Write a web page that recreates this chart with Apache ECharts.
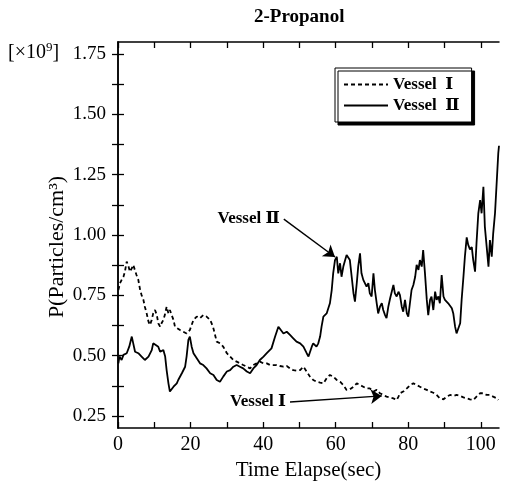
<!DOCTYPE html>
<html><head><meta charset="utf-8">
<script src="https://cdn.jsdelivr.net/npm/echarts@6/dist/echarts.min.js"></script>
<style>html,body{margin:0;padding:0;background:#fff}#c{width:505px;height:494px}</style>
</head><body><div id="c"></div>
<script>
// ---- data (time in sec, P in 10^9 particles/cm^3) ----
const timeVesselI = [0.1,0.55,1.0,1.5,1.9,2.4,2.9,3.3,3.8,4.2,4.7,5.1,5.6,6.1,6.5,7.0,7.4,7.9,8.4,8.8,9.3,9.7,10.2,10.7,11.1,11.6,12.0,12.5,12.9,13.4,13.9,14.3,14.8,15.3,15.7,16.2,17.1,18.0,18.9,19.8,20.3,20.8,21.2,21.7,22.6,23.5,24.4,25.4,25.8,26.3,27.2,28.1,29.0,30.0,30.9,31.8,32.7,33.6,34.5,35.5,36.4,37.3,38.2,39.1,40.1,41.0,41.9,42.8,43.7,44.6,45.6,46.5,47.4,48.3,49.2,50.2,
51.1,52.0,52.9,53.8,54.7,55.7,56.6,57.5,58.4,59.3,60.3,61.2,62.1,63.0,63.9,64.9,65.8,66.7,67.6,68.5,69.4,70.4,71.3,72.2,73.1,74.0,75.0,75.9,76.8,77.3,77.7,78.6,79.6,80.5,81.4,82.3,83.2,84.1,85.1,86.0,86.9,87.8,88.7,89.7,90.6,91.5,92.4,93.3,94.3,95.2,96.1,97.0,97.9,98.8,99.8,100.7,101.6,102.5,103.4,104.4,104.8];
const valueVesselI = [0.772,0.800,0.814,0.827,0.848,0.890,0.869,0.848,0.862,0.876,0.869,0.834,0.814,0.772,0.751,0.731,0.703,0.675,0.641,0.627,0.648,0.675,0.689,0.668,0.634,0.620,0.634,0.648,0.668,0.703,0.675,0.689,0.668,0.648,0.620,0.613,0.606,0.599,0.592,0.606,0.627,0.648,0.655,0.662,0.655,0.668,0.662,0.648,0.634,0.613,0.558,0.551,0.537,0.510,0.496,0.482,0.475,0.468,0.461,0.454,0.447,0.461,0.468,0.475,0.468,0.468,0.461,0.461,0.461,0.457,0.454,0.457,0.447,0.440,0.438,0.440,
0.454,0.434,0.413,0.399,0.392,0.388,0.385,0.406,0.420,0.413,0.399,0.392,0.378,0.358,0.360,0.371,0.385,0.378,0.371,0.364,0.364,0.351,0.358,0.344,0.337,0.330,0.327,0.323,0.316,0.330,0.344,0.351,0.364,0.378,0.385,0.378,0.371,0.364,0.358,0.351,0.346,0.337,0.323,0.319,0.330,0.337,0.333,0.337,0.333,0.327,0.323,0.319,0.316,0.330,0.344,0.344,0.337,0.337,0.330,0.323,0.316];

const timeVesselII = [0.1,0.4,1.0,1.5,2.4,3.1,3.8,4.2,4.7,5.6,6.5,7.4,8.4,9.3,9.7,10.2,11.1,11.6,12.5,13.0,13.4,13.9,14.3,15.3,16.2,16.6,17.6,18.5,18.9,19.4,19.8,20.3,20.8,21.7,22.6,23.5,24.4,25.4,26.3,27.2,28.1,29.0,30.0,30.9,31.8,32.7,33.6,34.5,35.5,36.4,37.3,38.2,39.1,40.1,41.0,42.3,43.3,44.2,
45.6,46.5,47.4,48.3,49.2,50.2,51.1,52.0,52.5,53.4,53.8,54.7,55.2,55.7,56.1,56.6,57.5,58.4,58.9,59.3,59.8,60.3,60.7,61.2,61.6,62.1,62.6,63.0,63.5,63.9,64.4,64.9,65.3,65.8,66.2,66.7,67.1,67.6,68.1,68.5,69.0,69.4,69.9,70.4,70.8,71.3,71.7,72.2,72.7,73.1,73.6,74.0,74.5,75.0,75.9,76.3,76.8,77.3,77.7,78.2,78.6,79.1,79.6,80.0,80.5,80.9,81.4,81.9,82.3,82.8,83.2,83.7,84.1,84.6,85.1,85.5,86.0,86.4,86.9,87.4,87.8,88.3,88.7,89.2,89.7,90.1,91.0,92.0,92.4,92.9,93.3,93.8,94.3,94.7,95.2,95.6,96.1,96.5,97.0,97.5,97.9,98.4,98.8,99.3,99.8,
100.2,100.7,101.1,101.6,102.1,102.5,103.0,103.4,103.9,104.4,104.8,105.0];
const valueVesselII = [0.468,0.496,0.482,0.503,0.510,0.537,0.579,0.551,0.516,0.510,0.496,0.482,0.496,0.523,0.551,0.558,0.537,0.516,0.523,0.496,0.440,0.385,0.351,0.371,0.385,0.399,0.427,0.454,0.496,0.565,0.579,0.537,0.510,0.489,0.468,0.461,0.447,0.427,0.420,0.399,0.392,0.413,0.434,0.440,0.454,0.461,0.454,0.447,0.434,0.427,0.447,0.461,0.482,0.496,0.510,0.530,0.579,0.620,
0.592,0.599,0.586,0.572,0.558,0.551,0.537,0.510,0.496,0.537,0.551,0.537,0.551,0.579,0.620,0.662,0.675,0.717,0.772,0.841,0.896,0.910,0.841,0.883,0.827,0.869,0.896,0.917,0.924,0.896,0.827,0.758,0.724,0.800,0.869,0.924,0.841,0.814,0.820,0.786,0.800,0.758,0.745,0.841,0.772,0.717,0.675,0.703,0.717,0.689,0.668,0.655,0.703,0.738,0.793,0.758,0.745,0.765,0.751,0.703,0.682,0.731,0.675,0.662,0.668,0.772,0.793,0.827,0.876,0.855,0.896,0.869,0.938,0.841,0.731,0.668,0.731,0.745,0.689,0.765,0.731,0.745,0.717,0.834,0.745,0.731,0.717,0.696,0.675,0.620,0.592,0.592,0.634,0.731,0.827,0.910,0.990,0.960,0.940,0.950,0.896,0.848,0.966,1.090,1.145,
1.090,1.200,1.035,0.952,0.869,0.979,0.910,1.007,1.090,1.228,1.339,1.370];

const seriesNames = ['Vessel Ⅰ', 'Vessel Ⅱ'];
const xTickLabels = [0, 20, 40, 60, 80, 100];
const xTicks = [0, 10, 20, 30, 40, 50, 60, 70, 80, 90, 100];
const yTickLabels = [0.25, 0.50, 0.75, 1.00, 1.25, 1.50, 1.75];
const yTicks = [0.25, 0.375, 0.5, 0.625, 0.75, 0.875, 1.0, 1.125, 1.25, 1.375, 1.5, 1.625, 1.75];
// annotation arrows: [start, tip] in data coordinates
const arrowVesselII = [[45.7, 1.066], [59.8, 0.909]];
const arrowVesselI = [[47.4, 0.308], [72.7, 0.333]];

const zip = (a, b) => a.map((t, i) => [t, b[i]]);
const FONT = '"Liberation Serif","DejaVu Serif","Times New Roman",serif';
const black = '#000';

const chart = echarts.init(document.getElementById('c'), null, {renderer: 'canvas'});

const baseAxisLine = {show: true, lineStyle: {color: black, width: 1.5}};

chart.setOption({
  animation: false,
  backgroundColor: '#fff',
  grid: {left: 118, right: 6, top: 42, bottom: 66, containLabel: false},
  xAxis: [{
    type: 'value', min: 0, max: 105, position: 'bottom',
    axisLine: baseAxisLine,
    axisTick: {show: true, inside: true, length: 6, customValues: xTicks, lineStyle: {color: black, width: 1.3}},
    axisLabel: {show: true, customValues: xTickLabels, margin: 7, fontFamily: FONT, fontSize: 20, color: black},
    splitLine: {show: false},
    name: 'Time Elapse(sec)', nameLocation: 'middle', nameGap: 29,
    nameTextStyle: {fontFamily: FONT, fontSize: 21, color: black}
  }, {
    type: 'value', min: 0, max: 105, position: 'top',
    axisLine: baseAxisLine,
    axisTick: {show: true, inside: true, length: 6, customValues: xTicks, lineStyle: {color: black, width: 1.3}},
    axisLabel: {show: false}, splitLine: {show: false}
  }],
  yAxis: [{
    type: 'value', min: 0.2, max: 1.8, position: 'left',
    axisLine: baseAxisLine,
    axisTick: {show: true, inside: true, length: 6, customValues: yTicks, lineStyle: {color: black, width: 1.3}},
    axisLabel: {show: true, customValues: yTickLabels, margin: 12, fontFamily: FONT, fontSize: 19, color: black,
      formatter: v => v.toFixed(2)},
    splitLine: {show: false},
    name: 'P(Particles/cm³)', nameLocation: 'middle', nameGap: 50, nameRotate: 90, nameMoveOverlap: false,
    nameTextStyle: {fontFamily: FONT, fontSize: 22, color: black, padding: [0, 24, 0, 0]}
  }, {
    type: 'value', min: 0.2, max: 1.8, position: 'right',
    axisLine: baseAxisLine,
    axisTick: {show: true, inside: true, length: 6, customValues: yTicks, lineStyle: {color: black, width: 1.3}},
    axisLabel: {show: false}, splitLine: {show: false}
  }],
  legend: {
    data: seriesNames,
    orient: 'vertical', left: 335, top: 68,
    itemWidth: 44, itemHeight: 12, itemGap: 4,
    padding: [8, 12, 8, 8],
    formatter: name => name.replace(' ', '  '),
    itemStyle: {opacity: 0},
    textStyle: {fontFamily: FONT, fontWeight: 'bold', fontSize: 17, color: black},
    borderColor: black, borderWidth: 1, backgroundColor: '#fff',
    shadowColor: black, shadowOffsetX: 3, shadowOffsetY: 3, shadowBlur: 0,
    selectedMode: false
  },
  graphic: [{
    type: 'text', left: 254, top: 8,
    style: {text: '2-Propanol', font: 'bold 19px ' + FONT, fill: black}
  }, {
    type: 'text', left: 8, top: 41,
    style: {
      text: '{a|[×10}{s|9}{a|]}',
      rich: {
        a: {fontFamily: FONT, fontSize: 20, fill: black, color: black, verticalAlign: 'bottom', lineHeight: 22},
        s: {fontFamily: FONT, fontSize: 13, fill: black, color: black, verticalAlign: 'top', lineHeight: 22, padding: [0, 0, 8, 0]}
      }
    }
  }],
  series: [{
    name: seriesNames[0], type: 'line', symbol: 'none', showSymbol: false,
    xAxisIndex: 0, yAxisIndex: 0,
    data: zip(timeVesselI, valueVesselI),
    lineStyle: {color: black, width: 1.8, type: [4, 3]},
    itemStyle: {color: black},
    markLine: {
      silent: true, animation: false, symbol: ['none', 'arrow'], symbolSize: 11,
      label: {show: false},
      lineStyle: {color: black, width: 1.4, type: 'solid'},
      data: [[{coord: arrowVesselI[0]}, {coord: arrowVesselI[1]}]]
    },
    markPoint: {
      silent: true, animation: false, symbol: 'circle', symbolSize: 0,
      label: {show: true, position: 'left', distance: 4, formatter: p => p.name,
        fontFamily: FONT, fontWeight: 'bold', fontSize: 17, color: black},
      data: [{name: seriesNames[0], coord: arrowVesselI[0]}]
    }
  }, {
    name: seriesNames[1], type: 'line', symbol: 'none', showSymbol: false,
    xAxisIndex: 0, yAxisIndex: 0,
    data: zip(timeVesselII, valueVesselII),
    lineStyle: {color: black, width: 1.8, type: 'solid'},
    itemStyle: {color: black},
    markLine: {
      silent: true, animation: false, symbol: ['none', 'arrow'], symbolSize: 11,
      label: {show: false},
      lineStyle: {color: black, width: 1.4, type: 'solid'},
      data: [[{coord: arrowVesselII[0]}, {coord: arrowVesselII[1]}]]
    },
    markPoint: {
      silent: true, animation: false, symbol: 'circle', symbolSize: 0,
      label: {show: true, position: 'left', distance: 4, formatter: p => p.name,
        fontFamily: FONT, fontWeight: 'bold', fontSize: 17, color: black},
      data: [{name: seriesNames[1], coord: arrowVesselII[0]}]
    }
  }]
});
</script>
</body></html>
